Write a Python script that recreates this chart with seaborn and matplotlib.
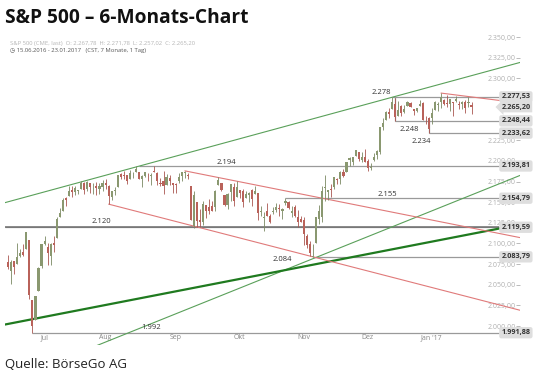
import matplotlib
matplotlib.use("Agg")
import matplotlib.pyplot as plt
import matplotlib.transforms as mtransforms
import seaborn as sns
import numpy as np
import pandas as pd

# S&P 500 daily candles, 15.06.2016 - 23.01.2017
holidays = ["2016-07-04", "2016-09-05", "2016-11-24", "2016-12-26", "2017-01-02", "2017-01-16"]
dates = pd.bdate_range("2016-06-15", "2017-01-23").drop(pd.to_datetime(holidays))

opens = [2077.6, 2066.4, 2078.2, 2075.6, 2085.2, 2089.8, 2092.8, 2103.8, 2031.5, 2006.7, 2042.7, 2073.2,
         2099.3, 2095.1, 2084.4, 2100.4, 2107.0, 2131.7, 2139.5, 2155.0, 2157.9, 2165.1, 2162.0, 2163.8,
         2166.1, 2172.9, 2166.5, 2173.7, 2169.0, 2169.8, 2166.0, 2168.8,
         2173.2, 2169.9, 2156.8, 2163.5, 2168.8, 2183.8, 2182.2, 2182.8, 2178.0, 2183.7, 2186.1, 2186.2,
         2177.8, 2181.9, 2184.2, 2181.6, 2187.8, 2185.1, 2173.3, 2175.1, 2170.2, 2179.4, 2173.6,
         2171.3, 2176.1, 2181.6, 2185.2, 2182.8, 2169.1, 2120.9, 2150.5, 2127.9, 2125.4, 2146.5, 2144.0,
         2145.9, 2144.6, 2170.9, 2173.3, 2158.5, 2146.0, 2161.9, 2168.9, 2156.5,
         2164.3, 2163.4, 2155.2, 2158.2, 2164.2, 2160.4, 2161.4, 2137.7, 2130.3, 2139.7, 2133.0, 2138.3,
         2140.8, 2142.5, 2139.4, 2148.5, 2149.7, 2137.0, 2144.1, 2132.2, 2129.8,
         2128.7, 2109.4, 2098.8, 2083.8, 2100.6, 2129.9, 2131.6, 2167.5, 2162.7, 2165.6, 2168.3, 2177.5,
         2178.6, 2186.9, 2186.4, 2201.6, 2198.6, 2206.3, 2210.2, 2200.8, 2205.0,
         2200.2, 2191.1, 2200.6, 2207.3, 2210.7, 2241.1, 2249.7, 2258.8, 2263.3, 2268.4, 2253.8, 2266.8,
         2259.2, 2266.5, 2270.5, 2262.9, 2260.3, 2266.2, 2270.2, 2249.5, 2251.6,
         2251.6, 2261.6, 2268.2, 2271.1, 2273.6, 2269.0, 2268.6, 2271.1, 2272.7, 2269.1, 2269.1, 2271.9,
         2270.0, 2267.8]
highs = [2085.9, 2079.6, 2078.2, 2100.7, 2093.7, 2099.7, 2113.3, 2103.8, 2031.5, 2036.1, 2071.0, 2098.9,
         2108.7, 2100.7, 2100.7, 2109.1, 2131.7, 2143.2, 2155.4, 2156.5, 2169.1, 2169.1, 2169.0, 2164.6,
         2175.6, 2174.6, 2175.1, 2173.7, 2173.5, 2175.0, 2172.9, 2177.1,
         2178.3, 2170.2, 2163.8, 2168.2, 2182.9, 2185.4, 2187.7, 2183.4, 2188.5, 2186.3, 2193.8, 2186.2,
         2183.1, 2187.0, 2185.0, 2184.9, 2193.4, 2186.7, 2179.0, 2187.9, 2183.5, 2182.3, 2173.8,
         2173.6, 2184.9, 2186.6, 2187.9, 2184.9, 2169.1, 2163.3, 2150.5, 2141.3, 2151.3, 2146.5, 2153.6,
         2150.8, 2165.1, 2180.0, 2173.8, 2158.5, 2161.1, 2172.4, 2172.7, 2175.3,
         2164.4, 2165.5, 2163.9, 2162.9, 2165.9, 2169.6, 2161.6, 2145.4, 2138.2, 2149.2, 2135.6, 2144.4,
         2148.4, 2147.2, 2142.6, 2154.8, 2151.4, 2145.7, 2147.1, 2140.7, 2133.3,
         2131.5, 2111.8, 2102.6, 2099.1, 2132.0, 2146.9, 2170.1, 2182.3, 2165.0, 2171.4, 2180.8, 2179.2,
         2188.1, 2189.9, 2198.7, 2204.8, 2204.7, 2213.4, 2211.1, 2210.5, 2214.1,
         2202.6, 2198.0, 2209.4, 2212.8, 2241.6, 2251.7, 2259.8, 2264.0, 2277.5, 2276.2, 2272.1, 2268.1,
         2267.5, 2272.6, 2271.2, 2263.2, 2263.8, 2273.8, 2271.3, 2254.5, 2253.6,
         2263.9, 2272.8, 2271.5, 2282.1, 2275.5, 2279.3, 2275.3, 2271.8, 2278.7, 2272.1, 2272.0, 2274.3,
         2277.0, 2271.8]
lows = [2069.4, 2050.4, 2062.8, 2075.6, 2083.0, 2084.4, 2092.8, 2032.6, 1991.9, 2006.7, 2042.7, 2070.0,
        2097.9, 2074.0, 2074.0, 2089.4, 2107.0, 2131.7, 2139.5, 2145.6, 2157.9, 2155.8, 2159.1, 2159.6,
        2166.1, 2159.8, 2163.2, 2161.3, 2160.2, 2159.1, 2159.7, 2163.5,
        2166.2, 2147.6, 2152.3, 2159.1, 2168.8, 2177.9, 2178.6, 2172.0, 2178.0, 2179.4, 2186.1, 2178.1,
        2168.5, 2180.5, 2175.1, 2171.3, 2186.8, 2171.3, 2169.7, 2160.4, 2170.2, 2170.4, 2161.4,
        2161.1, 2173.6, 2175.1, 2179.1, 2177.5, 2127.8, 2119.1, 2120.3, 2119.9, 2122.4, 2131.2, 2135.9,
        2139.2, 2139.6, 2170.9, 2164.0, 2145.0, 2141.6, 2151.8, 2145.2, 2156.5,
        2154.8, 2144.0, 2155.2, 2150.3, 2144.9, 2160.4, 2128.8, 2132.8, 2114.7, 2133.0, 2124.4, 2135.5,
        2138.2, 2133.4, 2130.1, 2146.9, 2141.9, 2131.6, 2132.5, 2119.4, 2125.5,
        2097.8, 2094.0, 2085.2, 2083.8, 2100.6, 2123.6, 2125.4, 2151.2, 2152.5, 2156.1, 2166.4, 2172.2,
        2171.9, 2180.4, 2186.4, 2193.4, 2194.5, 2206.3, 2200.4, 2198.9, 2198.8,
        2187.4, 2188.4, 2200.0, 2202.7, 2208.9, 2237.6, 2249.2, 2252.4, 2263.3, 2248.4, 2253.8, 2254.2,
        2258.2, 2266.2, 2265.2, 2256.1, 2258.8, 2266.2, 2249.1, 2244.6, 2233.6,
        2245.1, 2261.6, 2260.5, 2264.1, 2268.0, 2265.3, 2260.8, 2254.3, 2271.5, 2262.8, 2263.4, 2258.4,
        2265.0, 2257.0]
closes = [2071.5, 2078.0, 2071.2, 2083.3, 2088.9, 2085.5, 2113.3, 2037.4, 2000.5, 2036.1, 2070.8, 2098.9,
          2103.0, 2088.6, 2099.7, 2097.9, 2129.9, 2137.2, 2152.1, 2152.4, 2163.8, 2161.7, 2166.9, 2163.8,
          2173.0, 2165.2, 2175.0, 2168.5, 2169.2, 2166.6, 2170.1, 2173.6,
          2170.8, 2157.0, 2163.8, 2164.3, 2182.9, 2180.9, 2181.7, 2175.5, 2185.8, 2184.1, 2190.2, 2178.2,
          2182.2, 2187.0, 2183.9, 2182.6, 2186.9, 2175.4, 2172.5, 2169.0, 2180.4, 2176.1, 2171.0,
          2170.9, 2180.0, 2186.5, 2186.2, 2181.3, 2127.8, 2159.0, 2127.0, 2125.8, 2147.3, 2139.2, 2139.1,
          2139.8, 2163.1, 2177.2, 2164.7, 2146.1, 2159.9, 2171.4, 2151.1, 2168.3,
          2161.2, 2150.5, 2159.7, 2160.8, 2153.7, 2163.7, 2136.7, 2139.2, 2132.6, 2133.0, 2126.5, 2139.6,
          2144.3, 2141.3, 2141.2, 2151.3, 2143.2, 2139.4, 2133.0, 2126.4, 2126.2,
          2111.7, 2097.9, 2088.7, 2085.2, 2131.5, 2139.6, 2163.3, 2167.5, 2164.5, 2164.2, 2180.4, 2176.9,
          2187.1, 2181.9, 2198.2, 2202.9, 2204.7, 2213.4, 2201.7, 2204.7, 2198.8,
          2191.1, 2192.0, 2204.7, 2212.2, 2241.4, 2246.2, 2259.5, 2257.0, 2271.7, 2253.3, 2262.0, 2258.1,
          2262.5, 2270.8, 2265.2, 2261.0, 2263.8, 2268.9, 2249.9, 2249.3, 2238.8,
          2257.8, 2270.8, 2269.0, 2277.0, 2268.9, 2268.9, 2275.3, 2270.4, 2274.6, 2267.9, 2271.9, 2263.7,
          2271.3, 2265.2]

# marked price levels (value, first trading day index, chart label, label position)
levels = [2277.53, 2248.44, 2233.62, 2193.81, 2154.79, 2119.59, 2083.79, 1991.88]
level_start = [126, 127, 138, 43, 91, -1, 100, 8]
level_labels = ["2.278", "2.248", "2.234", "2.194", "2.155", "2.120", "2.084", "1.992"]
level_label_x = [122.5, 131.5, 135.6, 71.5, 124.5, 30.5, 90, 47]
level_label_y = [2283, 2238.5, 2223, 2198.5, 2159, 2126.5, 2081, 1998]
current_price = 2265.20

# trend lines: (day index, price) pairs
green_upper = ([-1, 168], [2149.4, 2319.3])
green_lower = ([25, 168], [1970.2, 2182.5])
green_thick = ([-1, 168], [2001.8, 2123.0])
red_upper = ([58, 168], [2187.9, 2107.0])
red_lower = ([33, 168], [2147.6, 2019.0])
red_jan = ([142, 168], [2282.1, 2270.0])

yticks = [2000, 2025, 2050, 2075, 2100, 2125, 2150, 2175, 2200, 2225, 2300, 2325, 2350]
month_labels = ["Jul", "Aug", "Sep", "Okt", "Nov", "Dez", "Jan '17"]


def de_num(v, dec=2):
    s = f"{v:,.{dec}f}"
    return s.replace(",", "X").replace(".", ",").replace("X", ".")


sns.set_style("white")
plt.rcParams["font.family"] = ["Open Sans", "DejaVu Sans"]

fig = plt.figure(figsize=(5.4, 3.8), dpi=100)
ax = fig.add_axes([5 / 540, 1 - 345 / 380, 515 / 540, 315 / 380])
ax.set_facecolor("none")

n = len(dates)
idx = np.arange(n)
o = np.array(opens)
h = np.array(highs)
l = np.array(lows)
c = np.array(closes)
up = c >= o
body_col = np.where(up, "#8a9870", "#b9625a")
wick_col = np.where(up, "#7a8862", "#aa5650")

ax.vlines(idx, l, h, colors=wick_col, linewidth=0.6, zorder=4)
ax.bar(idx, np.maximum(np.abs(c - o), 0.7), bottom=np.minimum(o, c), width=0.7,
       color=body_col, linewidth=0, zorder=5)

# horizontal levels
for lv, st in zip(levels, level_start):
    ax.hlines(lv, st, 161, colors="#9a9a9a", linewidth=0.9, zorder=2)
ax.hlines(2119.59, -1, 161, colors="#6e6e6e", linewidth=1.1, zorder=2)
ax.vlines(127, 2248.44, 2277.53, colors="#9a9a9a", linewidth=0.9, zorder=2)
ax.vlines(138, 2233.62, 2248.44, colors="#9a9a9a", linewidth=0.9, zorder=2)

for txt, lx, ly in zip(level_labels, level_label_x, level_label_y):
    ax.text(lx, ly, txt, fontsize=5.5, color="#333333", ha="center", va="center", zorder=6)

# trend lines
sns.lineplot(x=green_upper[0], y=green_upper[1], ax=ax, color="#5aa05a", linewidth=0.8, zorder=3)
sns.lineplot(x=green_lower[0], y=green_lower[1], ax=ax, color="#5aa05a", linewidth=0.8, zorder=3)
sns.lineplot(x=green_thick[0], y=green_thick[1], ax=ax, color="#1f7a1f", linewidth=1.6, zorder=3)
sns.lineplot(x=red_upper[0], y=red_upper[1], ax=ax, color="#e07a7a", linewidth=0.8, zorder=3)
sns.lineplot(x=red_lower[0], y=red_lower[1], ax=ax, color="#e07a7a", linewidth=0.8, zorder=3)
sns.lineplot(x=red_jan[0], y=red_jan[1], ax=ax, color="#e07a7a", linewidth=0.8, zorder=3)

ax.set_xlim(-0.98, 167.9)
ax.set_ylim(1977.0, 2358.5)

# y axis: labels inside on the right
ax.yaxis.tick_right()
ax.set_yticks(yticks)
ax.set_yticklabels([de_num(v) for v in yticks])
ax.tick_params(axis="y", direction="in", length=3, width=0.6, pad=-3, labelsize=5,
               colors="#b0b0b0", labelcolor="#b0b0b0")
for t in ax.get_yticklabels():
    t.set_horizontalalignment("right")

# x axis: month labels inside at bottom
month_pos = [idx[(dates.year == d.year) & (dates.month == d.month)][0]
             for d in pd.to_datetime(["2016-07-01", "2016-08-01", "2016-09-01", "2016-10-01",
                                      "2016-11-01", "2016-12-01", "2017-01-01"])]
ax.set_xticks(month_pos)
ax.set_xticklabels(month_labels)
ax.tick_params(axis="x", direction="in", length=2.5, width=0.6, pad=-3, labelsize=5,
               colors="#888888", labelcolor="#888888")
for t in ax.get_xticklabels():
    t.set_verticalalignment("bottom")

for s in ax.spines.values():
    s.set_visible(False)

# level boxes on right
trans = mtransforms.blended_transform_factory(ax.transAxes, ax.transData)
for lv in levels:
    ax.text(0.992, lv, de_num(lv), transform=trans, fontsize=5.2, fontweight="bold", color="#333333",
            ha="center", va="center", clip_on=False, zorder=10,
            bbox=dict(boxstyle="round,pad=0.3", fc="#dedede", ec="none"))
ax.text(0.992, current_price, de_num(current_price), transform=trans, fontsize=5.2, fontweight="bold",
        color="#333333", ha="center", va="center", clip_on=False, zorder=10,
        bbox=dict(boxstyle="larrow,pad=0.25", fc="#dedede", ec="none"))

# titles
fig.text(5 / 540, 1 - 18 / 380, "S&P 500 – 6-Monats-Chart", fontsize=13.8, fontweight="bold",
         color="#111111", ha="left", va="center")
fig.text(10 / 540, 1 - 43 / 380,
         "S&P 500 (CME, last)  O: 2.267,78  H: 2.271,78  L: 2.257,02  C: 2.265,20",
         fontsize=4.2, color="#b5b5b5", ha="left", va="center")
fig.text(10 / 540, 1 - 50.5 / 380, "◷ 15.06.2016 - 23.01.2017   (CST, 7 Monate, 1 Tag)",
         fontsize=4.2, color="#555555", ha="left", va="center")
fig.text(5 / 540, 1 - 364 / 380, "Quelle: BörseGo AG", fontsize=9.5, color="#222222",
         ha="left", va="center")

fig.savefig("out.png", dpi=100)
